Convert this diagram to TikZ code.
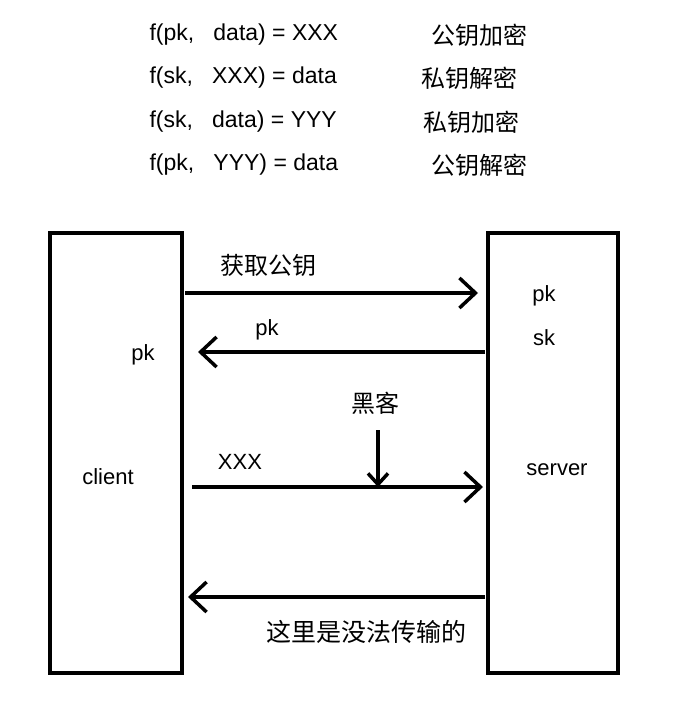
\documentclass[tikz,border=0pt]{standalone}
\usepackage{fontspec}
\setmainfont{Liberation Sans}
\newfontfamily\cjk{Noto Sans CJK SC}
\usetikzlibrary{arrows.meta}
\begin{document}
\begin{tikzpicture}[x=1pt,y=-1pt,
  box/.style={draw,line width=3.5pt},
  msg/.style={line width=3.5pt,-{Straight Barb[length=16pt,width=30pt,line width=3.5pt]}},
  every node/.style={font=\fontsize{22}{26}\selectfont}]
\useasboundingbox (0,0) rectangle (680,728);

% formulas
\node[anchor=west,font=\fontsize{23}{27}\selectfont] (f1) at (146,35) {f(pk,\ \ \ data) = XXX};
\node[anchor=west,font=\fontsize{23}{27}\selectfont] (f2) at (146,78) {f(sk,\ \ \ XXX) = data};
\node[anchor=west,font=\fontsize{23}{27}\selectfont] (f3) at (146,122) {f(sk,\ \ \ data) = YYY};
\node[anchor=west,font=\fontsize{23}{27}\selectfont] (f4) at (146,165) {f(pk,\ \ \ YYY) = data};
\node[anchor=west,font=\fontsize{24}{28}\selectfont] (c1) at (428,35) {\cjk 公钥加密};
\node[anchor=west,font=\fontsize{24}{28}\selectfont] (c2) at (418,78) {\cjk 私钥解密};
\node[anchor=west,font=\fontsize{24}{28}\selectfont] (c3) at (420,122) {\cjk 私钥加密};
\node[anchor=west,font=\fontsize{24}{28}\selectfont] (c4) at (428,165) {\cjk 公钥解密};

% boxes
\draw[box] (50,233) rectangle (182,673);
\draw[box] (488,233) rectangle (618,673);
\node (client) at (108,477) {client};
\node (server) at (557,470) {server};
\node (pkc) at (143,355) {pk};
\node (pks) at (544,296) {pk};
\node (sks) at (544,338) {sk};

% coordinates
\coordinate (a1) at (185,293); \coordinate (b1) at (478,293);
\coordinate (a2) at (485,352); \coordinate (b2) at (198,352);
\coordinate (a3) at (192,487); \coordinate (b3) at (483,487);
\coordinate (a4) at (485,597); \coordinate (b4) at (188,597);
\coordinate (h1) at (378,430); \coordinate (h2) at (378,487);

% messages
\draw[msg] (a1) -- (b1);
\draw[msg] (a2) -- (b2);
\draw[msg] (a3) -- (b3);
\draw[msg] (a4) -- (b4);
\draw[line width=3.5pt,-{Straight Barb[length=11pt,width=20pt,line width=3.5pt]}] (h1) -- (h2);

\node[font=\fontsize{24}{28}\selectfont] (get) at (268,265) {\cjk 获取公钥};
\node (pkm) at (267,330) {pk};
\node[font=\fontsize{24}{28}\selectfont] (hack) at (375,403) {\cjk 黑客};
\node (xxx) at (240,462) {XXX};
\node[font=\fontsize{25}{29}\selectfont] (no) at (366,632) {\cjk 这里是没法传输的};
\end{tikzpicture}
\end{document}
